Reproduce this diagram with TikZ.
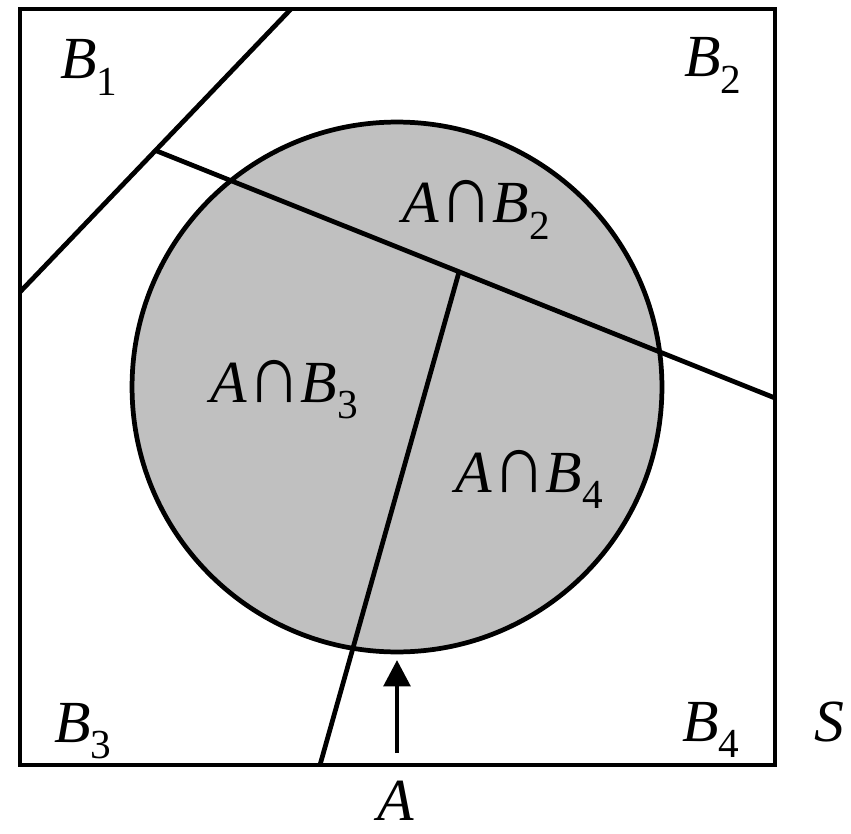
\documentclass[tikz,border=0pt]{standalone}
\usepackage{fontspec}
\setmainfont{Liberation Serif}
\usetikzlibrary{arrows.meta,calc}
\definecolor{eventgray}{RGB}{192,192,192}
\newcommand{\evsub}[2]{\textit{#1}\raisebox{-9.5pt}{\fontsize{23.5}{24}\selectfont #2}}
\newcommand{\evcap}{\scalebox{1.25}[1.4]{∩}}

\begin{document}
\begin{tikzpicture}[
        x=0.02cm, y=-0.02cm,
        line width=2.7pt,
        lbl/.style={inner sep=0pt, anchor=base west, font=\fontsize{34}{40}\selectfont},
        event/.style={circle, draw, fill=eventgray, minimum size=10.6cm, inner sep=0pt},
        cut/.style={draw},
        arr/.style={-{Triangle[length=15pt,width=15pt]}}
    ]
        \useasboundingbox (0,0) rectangle (851,834);
        % event A
        \node[event] (evA) at (397,387) {};
        % partition of S
        \coordinate (c1) at (291,9);
        \coordinate (c2) at (20,292);
        \coordinate (j1) at ($(c1)!0.5!(c2)$);
        \coordinate (c3) at (775,398);
        \coordinate (j2) at ($(j1)!0.49!(c3)$);
        \coordinate (c4) at (320,765);
        \draw[cut] (c1) -- (c2);
        \draw[cut] (j1) -- (c3);
        \draw[cut] (j2) -- (c4);
        % sample space
        \draw (20,9) rectangle (775,765);
        % labels
        \node[lbl] (b1) at (58,79) {\evsub{B}{1}};
        \node[lbl] (b2) at (682,77) {\evsub{B}{2}};
        \node[lbl] (ab2) at (400,223) {\textit{A}\evcap\evsub{B}{2}};
        \node[lbl] (ab3) at (208,402) {\textit{A}\evcap\evsub{B}{3}};
        \node[lbl] (ab4) at (453,492) {\textit{A}\evcap\evsub{B}{4}};
        \node[lbl] (b3) at (52,742) {\evsub{B}{3}};
        \node[lbl] (b4) at (680,741) {\evsub{B}{4}};
        \node[lbl] (s) at (812,741) {\textit{S}};
        \node[lbl] (a) at (375,820) {\textit{A}};
        \coordinate (foot) at (397,753);
        \coordinate (tip) at (397,660);
        \draw[arr] (foot) -- (tip);
    \end{tikzpicture}
\end{document}
